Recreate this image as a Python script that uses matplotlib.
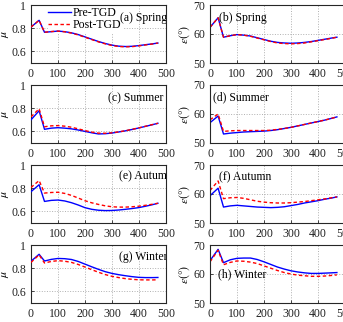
import matplotlib
matplotlib.use("Agg")
import matplotlib.pyplot as plt
import numpy as np

plt.rcParams['font.family'] = ['Liberation Serif', 'DejaVu Serif']
plt.rcParams['mathtext.fontset'] = 'stix'

x = [0, 30, 50, 75, 100, 125, 150, 175, 200, 225, 250, 275, 300, 325, 350, 375, 400, 425, 450, 470]

# Spring
mu_spring_pre  = [0.81, 0.868, 0.765, 0.770, 0.775, 0.770, 0.760, 0.745, 0.725, 0.705, 0.685, 0.668, 0.654, 0.645, 0.642, 0.644, 0.650, 0.658, 0.665, 0.672]
mu_spring_post = [0.81, 0.868, 0.765, 0.771, 0.775, 0.769, 0.758, 0.742, 0.722, 0.702, 0.682, 0.665, 0.651, 0.642, 0.639, 0.641, 0.648, 0.656, 0.664, 0.672]
ep_spring_pre  = [62.3, 65.6, 58.9, 59.4, 59.8, 59.6, 59.3, 58.7, 58.1, 57.5, 57.1, 56.9, 56.8, 56.9, 57.1, 57.4, 57.8, 58.2, 58.6, 58.9]
ep_spring_post = [62.3, 65.6, 58.9, 59.4, 59.8, 59.6, 59.2, 58.6, 58.0, 57.4, 56.9, 56.7, 56.6, 56.7, 56.9, 57.3, 57.7, 58.1, 58.5, 58.9]

# Summer
mu_summer_pre  = [0.700, 0.778, 0.618, 0.628, 0.632, 0.628, 0.622, 0.612, 0.600, 0.588, 0.578, 0.580, 0.586, 0.595, 0.605, 0.617, 0.630, 0.644, 0.658, 0.670]
mu_summer_post = [0.725, 0.795, 0.640, 0.648, 0.650, 0.645, 0.636, 0.622, 0.607, 0.594, 0.585, 0.584, 0.588, 0.596, 0.606, 0.618, 0.631, 0.645, 0.659, 0.670]
ep_summer_pre  = [57.0, 59.3, 53.1, 53.4, 53.6, 53.8, 53.9, 54.0, 54.1, 54.3, 54.6, 55.0, 55.4, 55.9, 56.4, 56.9, 57.4, 57.9, 58.5, 59.0]
ep_summer_post = [58.0, 60.0, 54.0, 54.2, 54.3, 54.3, 54.3, 54.3, 54.3, 54.4, 54.7, 55.0, 55.4, 55.9, 56.4, 56.9, 57.4, 57.9, 58.5, 59.0]

# Autumn
mu_autumn_pre  = [0.770, 0.830, 0.686, 0.695, 0.698, 0.690, 0.675, 0.655, 0.632, 0.618, 0.610, 0.607, 0.608, 0.612, 0.618, 0.625, 0.633, 0.645, 0.658, 0.670]
mu_autumn_post = [0.806, 0.866, 0.758, 0.763, 0.765, 0.755, 0.738, 0.715, 0.692, 0.674, 0.660, 0.648, 0.640, 0.637, 0.637, 0.640, 0.645, 0.653, 0.662, 0.670]
ep_autumn_pre  = [59.4, 62.0, 55.5, 55.9, 56.1, 55.9, 55.7, 55.5, 55.4, 55.3, 55.4, 55.6, 56.0, 56.4, 56.9, 57.3, 57.7, 58.2, 58.6, 59.0]
ep_autumn_post = [61.2, 64.5, 58.4, 58.7, 58.8, 58.5, 58.0, 57.5, 57.2, 57.0, 56.9, 56.9, 57.0, 57.2, 57.4, 57.7, 58.0, 58.3, 58.7, 59.0]

# Winter
mu_winter_pre  = [0.860, 0.920, 0.862, 0.876, 0.884, 0.882, 0.875, 0.858, 0.835, 0.812, 0.790, 0.770, 0.755, 0.744, 0.735, 0.727, 0.721, 0.719, 0.719, 0.720]
mu_winter_post = [0.850, 0.915, 0.845, 0.858, 0.865, 0.860, 0.850, 0.832, 0.810, 0.787, 0.765, 0.745, 0.730, 0.719, 0.710, 0.704, 0.700, 0.699, 0.699, 0.700]
ep_winter_pre  = [64.6, 68.5, 63.9, 64.9, 65.4, 65.5, 65.5, 65.0, 64.2, 63.3, 62.4, 61.7, 61.1, 60.7, 60.4, 60.2, 60.2, 60.3, 60.4, 60.5]
ep_winter_post = [64.2, 68.2, 63.2, 64.0, 64.5, 64.4, 64.1, 63.6, 62.8, 62.0, 61.2, 60.5, 60.0, 59.6, 59.4, 59.2, 59.2, 59.3, 59.5, 59.7]

mu_panels = [(mu_spring_pre, mu_spring_post, '(a) Spring'),
             (mu_summer_pre, mu_summer_post, '(c) Summer'),
             (mu_autumn_pre, mu_autumn_post, '(e) Autumn'),
             (mu_winter_pre, mu_winter_post, '(g) Winter')]
ep_panels = [(ep_spring_pre, ep_spring_post, '(b) Spring'),
             (ep_summer_pre, ep_summer_post, '(d) Summer'),
             (ep_autumn_pre, ep_autumn_post, '(f) Autumn'),
             (ep_winter_pre, ep_winter_post, '(h) Winter')]

mu_ticks = [0.6, 0.8, 1]
mu_ticklabels = ['0.6', '0.8', '1']
ep_ticks = [50, 60, 70]
x_ticks = [0, 100, 200, 300, 400, 500]

W, H = 343, 322
fig = plt.figure(figsize=(W / 100, H / 100), dpi=100)

fs = 8.5
spine_col = '#262626'
tops = [5, 85, 165, 245]
ah = 58
lefts = [31, 210]
aw = 135

mu_text_pos = [(0.66, 0.78), (0.57, 0.77), (0.65, 0.80), (0.65, 0.79)]
ep_text_pos = [(0.07, 0.78), (0.02, 0.78), (0.07, 0.79), (0.06, 0.49)]


def style(ax):
    for s in ax.spines.values():
        s.set_color(spine_col)
        s.set_linewidth(0.8)
    ax.tick_params(direction='in', length=2.5, width=0.6, colors=spine_col,
                   labelsize=fs, labelcolor='#222222', pad=3.5)
    ax.grid(True, linestyle=':', color='#b0b0b0', linewidth=0.7)
    ax.set_axisbelow(True)


for r in range(4):
    b = 1 - (tops[r] + ah) / H
    # left: mu
    ax = fig.add_axes([lefts[0] / W, b, aw / W, ah / H])
    pre, post, lab = mu_panels[r]
    ax.plot(x, pre, color='blue', lw=1.0, label='Pre-TGD', zorder=3)
    ax.plot(x, post, color='red', lw=1.0, ls='--', dashes=(2.5, 1.8), label='Post-TGD', zorder=3)
    ax.set_xlim(0, 500)
    ax.set_ylim(0.5, 1)
    ax.set_xticks(x_ticks)
    ax.set_yticks(mu_ticks)
    ax.set_yticklabels(mu_ticklabels)
    style(ax)
    ax.set_ylabel(r'$\mu$', fontsize=fs)
    ax.yaxis.set_label_coords(-0.145, 0.5)
    ax.text(mu_text_pos[r][0], mu_text_pos[r][1], lab, transform=ax.transAxes,
            fontsize=fs, va='center', ha='left', clip_on=True, zorder=5)
    if r == 0:
        leg = ax.legend(loc='upper left', bbox_to_anchor=(0.125, 0.975), fontsize=fs,
                        frameon=True, fancybox=False, handlelength=1.9,
                        handletextpad=0.15, borderpad=0.05, labelspacing=0.0,
                        borderaxespad=0.0)
        leg.get_frame().set_edgecolor('white')
        leg.get_frame().set_facecolor('white')
        leg.get_frame().set_alpha(1)
        leg.set_zorder(2)
    if r == 3:
        ax.set_xlabel('Distance (m)', fontsize=fs, labelpad=2)

    # right: epsilon
    ax2 = fig.add_axes([lefts[1] / W, b, aw / W, ah / H])
    pre, post, lab = ep_panels[r]
    ax2.plot(x, pre, color='blue', lw=1.0)
    ax2.plot(x, post, color='red', lw=1.0, ls='--', dashes=(2.5, 1.8))
    ax2.set_xlim(0, 500)
    ax2.set_ylim(50, 70)
    ax2.set_xticks(x_ticks)
    ax2.set_yticks(ep_ticks)
    style(ax2)
    ax2.set_ylabel(r'$\varepsilon(°)$', fontsize=fs)
    ax2.yaxis.set_label_coords(-0.13, 0.5)
    ax2.text(ep_text_pos[r][0], ep_text_pos[r][1], lab, transform=ax2.transAxes,
             fontsize=fs, va='center', ha='left', clip_on=True, zorder=5)
    if r == 3:
        ax2.set_xlabel('Distance (m)', fontsize=fs, labelpad=2)

fig.savefig('out.png', dpi=100)
